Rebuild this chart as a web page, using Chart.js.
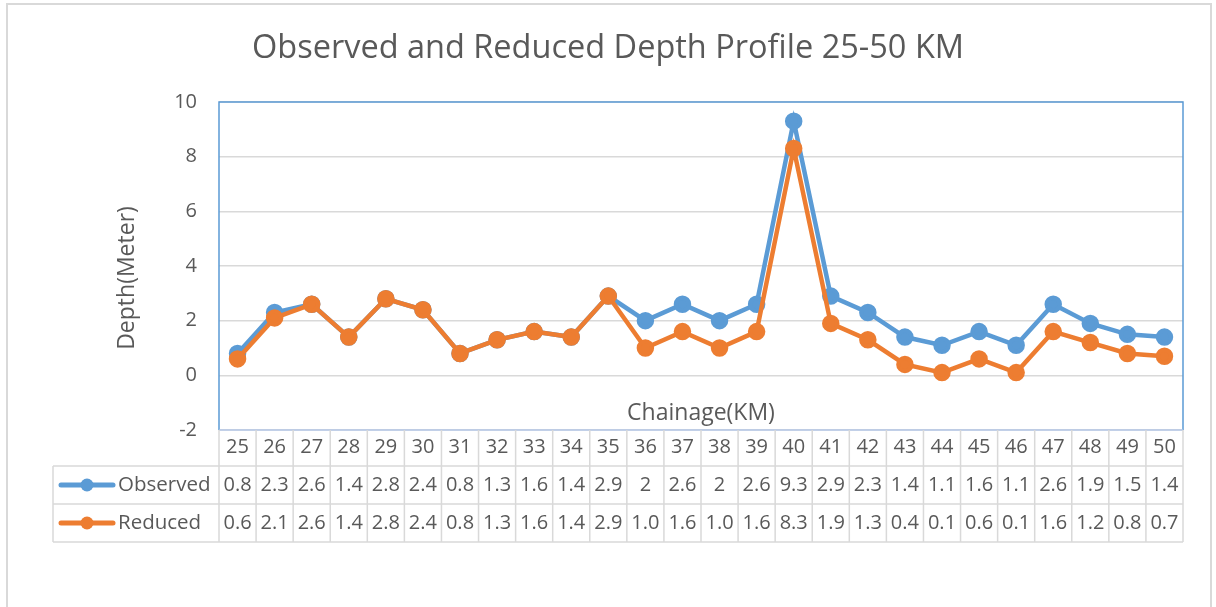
<!DOCTYPE html>
<html>
<head>
<meta charset="utf-8">
<script src="https://cdn.jsdelivr.net/npm/chart.js@4.4.0/dist/chart.umd.min.js"></script>
<style>
  html, body { margin: 0; padding: 0; background: #fff; }
  #wrap { width: 1216px; height: 607px; }
</style>
</head>
<body>
<div id="wrap"><canvas id="myChart" width="1216" height="607"></canvas></div>
<script>
const chainage = ['25', '26', '27', '28', '29', '30', '31', '32', '33', '34', '35', '36', '37',
                  '38', '39', '40', '41', '42', '43', '44', '45', '46', '47', '48', '49', '50'];
const observed = [0.8, 2.3, 2.6, 1.4, 2.8, 2.4, 0.8, 1.3, 1.6, 1.4, 2.9, 2, 2.6,
                  2, 2.6, 9.3, 2.9, 2.3, 1.4, 1.1, 1.6, 1.1, 2.6, 1.9, 1.5, 1.4];
const reduced = [0.6, 2.1, 2.6, 1.4, 2.8, 2.4, 0.8, 1.3, 1.6, 1.4, 2.9, 1.0, 1.6,
                 1.0, 1.6, 8.3, 1.9, 1.3, 0.4, 0.1, 0.6, 0.1, 1.6, 1.2, 0.8, 0.7];
const seriesNames = ['Observed', 'Reduced'];
const yMin = -2, yMax = 10, yStep = 2;

const chartTitle = 'Observed and Reduced Depth Profile 25-50 KM';
const xTitle = 'Chainage(KM)';
const yTitle = 'Depth(Meter)';

const blue = '#5B9BD5';
const orange = '#ED7D31';
const textGrey = '#595959';
const lineGrey = '#D9D9D9';
const fontFamily = '"Open Sans", sans-serif';

// frame, titles and the excel style data table under the plot
const excelBits = {
  id: 'excelBits',
  beforeDraw(chart) {
    const ctx = chart.ctx;
    ctx.save();
    ctx.strokeStyle = lineGrey;
    ctx.lineWidth = 2;
    ctx.strokeRect(7, 4, 1204, 700);
    ctx.restore();
  },
  beforeDatasetsDraw(chart) {
    const ctx = chart.ctx;
    const a = chart.chartArea;
    ctx.save();
    ctx.lineWidth = 1.5;
    ctx.strokeStyle = blue;
    ctx.beginPath();
    ctx.moveTo(a.left, a.bottom);
    ctx.lineTo(a.left, a.top);
    ctx.lineTo(a.right, a.top);
    ctx.lineTo(a.right, a.bottom);
    ctx.stroke();
    ctx.strokeStyle = '#B4C7E7';
    ctx.beginPath();
    ctx.moveTo(a.left, a.bottom);
    ctx.lineTo(a.right, a.bottom);
    ctx.stroke();
    ctx.restore();
  },
  afterDraw(chart) {
    const ctx = chart.ctx;
    const a = chart.chartArea;
    const xs = chart.scales.x;
    const colW = a.width / chainage.length;
    const rows = [a.bottom, a.bottom + 36, a.bottom + 74, a.bottom + 112];
    const labelLeft = 53;

    ctx.save();
    // chart title
    ctx.fillStyle = textGrey;
    ctx.textAlign = 'center';
    ctx.textBaseline = 'alphabetic';
    ctx.font = '32.5px ' + fontFamily;
    ctx.fillText(chartTitle, chart.width / 2, 58);

    // axis titles
    ctx.font = '23px ' + fontFamily;
    ctx.textBaseline = 'middle';
    ctx.fillText(xTitle, (a.left + a.right) / 2, 413);
    ctx.save();
    ctx.translate(127, 278);
    ctx.rotate(-Math.PI / 2);
    ctx.fillText(yTitle, 0, 0);
    ctx.restore();

    // table grid
    ctx.strokeStyle = lineGrey;
    ctx.lineWidth = 1.5;
    ctx.beginPath();
    for (let i = 0; i <= chainage.length; i++) {
      const x = a.left + i * colW;
      ctx.moveTo(x, rows[0]);
      ctx.lineTo(x, rows[3]);
    }
    ctx.moveTo(labelLeft, rows[1]);
    ctx.lineTo(a.right, rows[1]);
    ctx.moveTo(labelLeft, rows[2]);
    ctx.lineTo(a.right, rows[2]);
    ctx.moveTo(labelLeft, rows[3]);
    ctx.lineTo(a.right, rows[3]);
    ctx.moveTo(labelLeft, rows[1]);
    ctx.lineTo(labelLeft, rows[3]);
    ctx.stroke();

    // table rows: legend key + values
    const series = [
      { name: seriesNames[0], color: blue, values: observed.map(v => String(v)) },
      { name: seriesNames[1], color: orange, values: reduced.map(v => v.toFixed(1)) }
    ];
    series.forEach((s, r) => {
      const cy = (rows[r + 1] + rows[r + 2]) / 2;
      ctx.strokeStyle = s.color;
      ctx.lineWidth = 5;
      ctx.lineCap = 'round';
      ctx.beginPath();
      ctx.moveTo(61, cy);
      ctx.lineTo(113, cy);
      ctx.stroke();
      ctx.fillStyle = s.color;
      ctx.beginPath();
      ctx.arc(87, cy, 6.5, 0, Math.PI * 2);
      ctx.fill();

      ctx.fillStyle = textGrey;
      ctx.font = '20.5px ' + fontFamily;
      ctx.textAlign = 'left';
      ctx.fillText(s.name, 118, cy);
      ctx.font = '20px ' + fontFamily;
      ctx.textAlign = 'center';
      s.values.forEach((t, i) => {
        ctx.fillText(t, xs.getPixelForValue(i), cy);
      });
    });
    ctx.restore();
  }
};

new Chart(document.getElementById('myChart'), {
  type: 'line',
  data: {
    labels: chainage,
    datasets: [
      {
        label: seriesNames[0],
        data: observed,
        borderColor: blue,
        backgroundColor: blue,
        pointBackgroundColor: blue,
        pointBorderColor: blue,
        borderWidth: 4.5,
        pointRadius: 6.5,
        tension: 0,
        order: 1
      },
      {
        label: seriesNames[1],
        data: reduced,
        borderColor: orange,
        backgroundColor: orange,
        pointBackgroundColor: orange,
        pointBorderColor: orange,
        borderWidth: 4.5,
        pointRadius: 6.5,
        tension: 0,
        order: 0
      }
    ]
  },
  options: {
    responsive: false,
    animation: false,
    events: [],
    layout: { padding: { left: 0, right: 33, top: 102, bottom: 0 } },
    plugins: {
      legend: { display: false },
      title: { display: false },
      tooltip: { enabled: false }
    },
    scales: {
      x: {
        offset: true,
        grid: { display: false, drawTicks: false },
        border: { display: false },
        ticks: {
          color: textGrey,
          font: { family: fontFamily, size: 20 },
          padding: 5,
          maxRotation: 0,
          autoSkip: false
        },
        afterFit: s => { s.height = 177; }
      },
      y: {
        min: yMin,
        max: yMax,
        grid: { color: lineGrey, lineWidth: 1.5, drawTicks: false },
        border: { display: false },
        ticks: {
          stepSize: yStep,
          color: textGrey,
          font: { family: fontFamily, size: 20 },
          padding: 22
        },
        afterFit: s => { s.width = 219; }
      }
    }
  },
  plugins: [excelBits]
});
</script>
</body>
</html>
